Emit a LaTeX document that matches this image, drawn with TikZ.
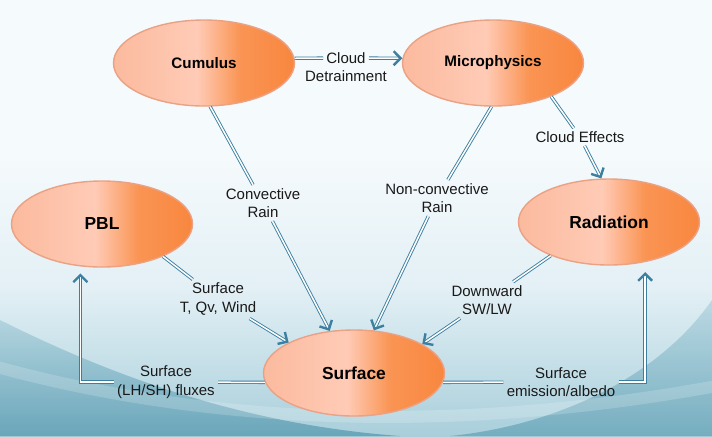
\documentclass[tikz,border=0pt]{standalone}
\usepackage{fontspec}
\setmainfont{Liberation Sans}
\usetikzlibrary{arrows.meta,shapes.geometric}

\definecolor{arrowblue}{HTML}{3C7FA0}
\definecolor{peachl}{HTML}{FBBA9E}
\definecolor{peachll}{HTML}{FFCBB6}
\definecolor{orangem}{HTML}{FA9453}
\definecolor{oranged}{HTML}{F8873F}
\definecolor{ovalrim}{HTML}{EBA184}
\definecolor{bgtop}{HTML}{F5FAFC}
\definecolor{bgmid}{HTML}{E3F0F5}
\definecolor{bglow}{HTML}{A9CFDB}
\definecolor{bgteal}{HTML}{5A9CB2}

\pgfdeclarehorizontalshading{ovalshade}{100bp}{color(0bp)=(peachl); color(25bp)=(peachl); color(48bp)=(peachll); color(60bp)=(orangem); color(75bp)=(oranged); color(100bp)=(oranged)}
\pgfdeclareverticalshading{bgshade}{100bp}{color(0bp)=(bglow); color(25bp)=(bglow); color(42bp)=(bgmid); color(57bp)=(bgtop); color(100bp)=(bgtop)}

\begin{document}
\begin{tikzpicture}[x=0.5pt, y=-0.5pt,
  oval/.style={ellipse, draw=ovalrim, line width=0.7pt, shading=ovalshade,
    minimum width=90.5pt, minimum height=43pt, inner sep=0pt,
    font=\bfseries\fontsize{7.6}{9}\selectfont},
  bigoval/.style={oval, font=\bfseries\fontsize{8.7}{10}\selectfont},
  lbl/.style={align=center, inner sep=1.5pt, text=black!90,
    font=\fontsize{7.5}{9.3}\selectfont},
  link/.style={draw=arrowblue, line width=0.45pt, double=white,
    double distance=0.75pt},
  headed/.style={-{Straight Barb[length=3.5pt, width=7pt, line width=1.2pt]}}]

% background
\useasboundingbox (0,0) rectangle (712,436);
\begin{scope}
 \clip (0,0) rectangle (712,436);
 \shade[shading=bgshade] (0,0) rectangle (712,436);
 \shade[top color=bglow, bottom color=bgteal, opacity=.8]
   (0,320) .. controls (120,380) and (250,425) .. (400,436) -- (0,436) -- cycle;
 \shade[top color=bglow, bottom color=bgteal, opacity=.65]
   (712,300) .. controls (660,375) and (560,425) .. (450,436) -- (712,436) -- cycle;
 \draw[white, opacity=.18, line width=6pt]
   (-10,365) .. controls (150,410) and (400,445) .. (722,385);
\end{scope}

% schemes
\node[oval] (cumulus) at (204,63) {Cumulus};
\node[oval] (micro) at (493,63) {Microphysics};
\node[bigoval] (pbl) at (102,224) {PBL};
\node[bigoval] (radiation) at (609,222) {Radiation};
\node[bigoval] (surface) at (354,373) {Surface};

% exchanged quantities
\node[lbl, label={[lbl, inner sep=0pt, yshift=-1.5pt]below:Detrainment}] (detr) at (346,58) {Cloud};
\node[lbl] (ceff) at (580,137) {Cloud Effects};
\node[lbl] (convrain) at (263,203) {Convective\\Rain};
\node[lbl] (ncrain) at (437,198) {Non-convective\\Rain};
\node[lbl] (sfcwind) at (218,299) {Surface\\T, Qv, Wind};
\node[lbl] (swlw) at (487,300) {Downward\\SW/LW};
\node[lbl] (fluxes) at (166,382) {Surface\\(LH/SH) fluxes};
\node[lbl] (emis) at (561,382) {Surface\\emission/albedo};

\begin{scope}[every edge/.style={link}]
 \path (cumulus.3) edge (detr);
 \path [headed] (detr) edge (micro.177);
 \path (micro.-30) edge (ceff);
 \path [headed] (ceff) edge (radiation.100);
 \path (cumulus.-82) edge (convrain);
 \path [headed] (convrain) edge (surface.120);
 \path (micro.-92) edge (ncrain);
 \path [headed] (ncrain) edge (surface.65);
 \path (pbl.-28) edge (sfcwind);
 \path [headed] (sfcwind) edge (surface.155);
 \path (radiation.-150) edge (swlw);
 \path [headed] (swlw) edge (surface.23);
 \path (surface.186) edge (fluxes);
 \path (surface.-6) edge (emis);
\end{scope}
\draw[link, headed, shorten >=3.5pt] (fluxes) -| (pbl.243);
\draw[link, headed, shorten >=5pt] (emis) -| (radiation.-48);
\end{tikzpicture}
\end{document}
